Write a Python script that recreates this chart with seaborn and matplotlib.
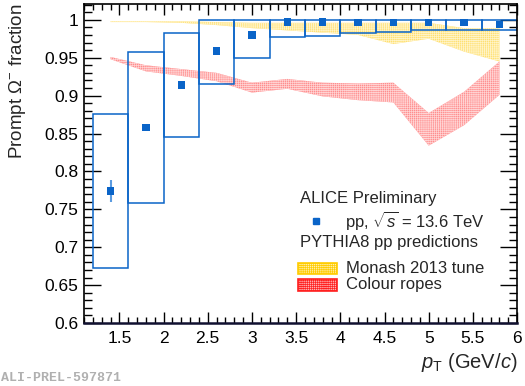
import seaborn as sns
import pandas as pd
import matplotlib.pyplot as plt
from matplotlib.patches import Rectangle
from matplotlib.ticker import MultipleLocator

sns.set_theme(style="ticks")
plt.rcParams['font.family'] = ['Liberation Sans', 'DejaVu Sans']
plt.rcParams['mathtext.fontset'] = 'custom'
plt.rcParams['mathtext.rm'] = 'Liberation Sans'
plt.rcParams['mathtext.it'] = 'Liberation Sans:italic'
plt.rcParams['hatch.linewidth'] = 0.5

# ALICE data, prompt Omega- fraction vs pT
pt_centre = [1.4, 1.8, 2.2, 2.6, 3.0, 3.4, 3.8, 4.2, 4.6, 5.0, 5.4, 5.8]
pt_halfwidth = [0.2] * 12
fraction = [0.774, 0.858, 0.914, 0.959, 0.980, 0.997, 0.997, 0.996, 0.996, 0.996, 0.996, 0.994]
stat_err = [0.0145, 0.003, 0.002, 0.002, 0.002, 0.001, 0.001, 0.001, 0.001, 0.001, 0.001, 0.001]
sys_low = [0.672, 0.759, 0.846, 0.915, 0.949, 0.977, 0.978, 0.982, 0.984, 0.986, 0.986, 0.986]
sys_high = [0.876, 0.957, 0.983, 1.000, 1.000, 1.000, 1.000, 1.000, 1.000, 1.000, 1.000, 1.000]

# PYTHIA8 predictions (bands)
monash_high = [0.998, 0.998, 0.998, 0.997, 0.996, 0.996, 0.996, 0.996, 0.996, 0.996, 0.989, 0.989]
monash_low = [0.997, 0.997, 0.996, 0.993, 0.989, 0.986, 0.983, 0.980, 0.968, 0.975, 0.958, 0.945]
ropes_high = [0.951, 0.940, 0.935, 0.930, 0.917, 0.922, 0.917, 0.916, 0.917, 0.877, 0.905, 0.945]
ropes_low = [0.948, 0.932, 0.926, 0.919, 0.904, 0.909, 0.899, 0.894, 0.891, 0.834, 0.861, 0.901]

df = pd.DataFrame({'pt': pt_centre, 'frac': fraction, 'stat': stat_err,
                   'sys_lo': sys_low, 'sys_hi': sys_high, 'hw': pt_halfwidth})

blue = '#0a64c8'
fs = 12.5
yellow_fill, yellow_hatch = '#ffe070', '#fff4c8'
red_fill, red_hatch = '#ff8e8e', '#ffd4d4'

fig = plt.figure(figsize=(5.25, 3.86), dpi=100)
ax = fig.add_axes([0.16, 0.163, 0.825, 0.827])

# model bands
ax.fill_between(pt_centre, monash_low, monash_high, facecolor=yellow_fill,
                edgecolor=yellow_hatch, hatch='++++++++', linewidth=0, zorder=1)
ax.fill_between(pt_centre, ropes_low, ropes_high, facecolor=red_fill,
                edgecolor=red_hatch, hatch='++++++++', linewidth=0, zorder=1)

# systematic boxes
for _, r in df.iterrows():
    ax.add_patch(Rectangle((r['pt'] - r['hw'], r['sys_lo']), 2 * r['hw'],
                           r['sys_hi'] - r['sys_lo'], fill=False,
                           edgecolor=blue, linewidth=1.1, zorder=2))

# statistical errors and points
ax.errorbar(df['pt'], df['frac'], yerr=df['stat'], fmt='none', ecolor='#5b9be0',
            elinewidth=1.5, capsize=0, zorder=3)
sns.scatterplot(data=df, x='pt', y='frac', marker='s', s=28, color=blue,
                edgecolor='none', ax=ax, zorder=4)

ax.set_xlim(1.1, 6.0)
ax.set_ylim(0.6, 1.021)
ax.xaxis.set_minor_locator(MultipleLocator(0.1))
ax.yaxis.set_minor_locator(MultipleLocator(0.01))
ax.set_xticks([1.5, 2, 2.5, 3, 3.5, 4, 4.5, 5, 5.5, 6])
ax.set_xticklabels(['1.5', '2', '2.5', '3', '3.5', '4', '4.5', '5', '5.5', '6'])
ax.set_yticks([0.6, 0.65, 0.7, 0.75, 0.8, 0.85, 0.9, 0.95, 1.0])
ax.set_yticklabels(['0.6', '0.65', '0.7', '0.75', '0.8', '0.85', '0.9', '0.95', '1'])
ax.tick_params(which='both', direction='in', top=True, right=True, labelsize=fs,
               colors='black', width=1.0)
ax.tick_params(axis='x', which='major', length=8, pad=6)
ax.tick_params(axis='x', which='minor', length=4)
ax.tick_params(axis='y', which='major', length=12, pad=4)
ax.tick_params(axis='y', which='minor', length=6)
for s in ax.spines.values():
    s.set_linewidth(1.2)
    s.set_color('black')
ax.spines['bottom'].set_color('#101030')
ax.spines['bottom'].set_linewidth(1.8)

ax.set_xlabel(r'$p_{\mathrm{T}}$ (GeV/$c$)', loc='right', fontsize=14.5, labelpad=3)
ax.set_ylabel(r'Prompt $\Omega^{-}$ fraction', loc='top', fontsize=13.5, labelpad=12)

# legend, drawn by hand in axes coordinates
tk = dict(transform=ax.transAxes, fontsize=12, va='center', ha='left')
ax.text(0.499, 0.389, 'ALICE Preliminary', **tk)
ax.plot([0.536], [0.320], marker='s', ms=4.5, color=blue, transform=ax.transAxes)
ax.text(0.603, 0.320, r'pp, $\sqrt{s}$ = 13.6 TeV', **tk)
ax.text(0.499, 0.251, 'PYTHIA8 pp predictions', **tk)
ax.add_patch(Rectangle((0.494, 0.154), 0.09, 0.034, transform=ax.transAxes,
                       facecolor='#fff0b0', edgecolor='#ffcc00', hatch='++++++++', linewidth=1.2))
ax.add_patch(Rectangle((0.494, 0.100), 0.09, 0.038, transform=ax.transAxes,
                       facecolor='#ffb0b0', edgecolor='#ff2020', hatch='++++++++', linewidth=1.2))
ax.text(0.605, 0.172, 'Monash 2013 tune', **tk)
ax.text(0.605, 0.120, 'Colour ropes', **tk)

fig.text(0.002, 0.02, 'ALI-PREL-597871', fontsize=9.5, family='Liberation Mono',
         weight='bold', color='#b0b0b0', ha='left', va='center')

fig.savefig('out.png', dpi=100)
